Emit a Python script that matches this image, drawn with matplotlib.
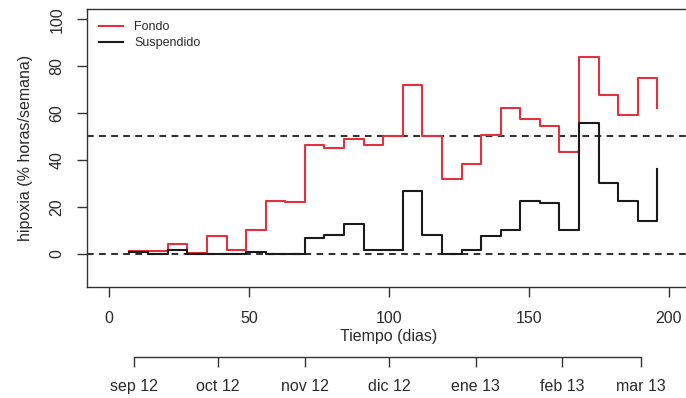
import matplotlib
matplotlib.use("Agg")
import matplotlib.pyplot as plt
from matplotlib.lines import Line2D

plt.rcParams["font.family"] = ["Liberation Sans", "DejaVu Sans"]

# weekly points (days since start)
days = [7, 14, 21, 28, 35, 42, 49, 56, 63, 70, 77, 84, 91, 98, 105, 112,
        119, 126, 133, 140, 147, 154, 161, 168, 175, 182, 189, 196]
fondo = [1.0, 1.0, 4.1, 0.3, 7.7, 1.4, 10.0, 22.6, 22.2, 46.2, 45.0, 49.0, 46.2, 50.1,
         72.0, 50.1, 32.0, 38.2, 50.7, 62.0, 57.5, 54.3, 43.4, 83.9, 67.8, 59.0, 75.1, 62.1]
suspendido = [0.7, 0.0, 1.5, 0.0, 0.0, 0.0, 0.5, 0.0, 0.0, 6.6, 7.8, 12.7, 1.4, 1.4,
              26.9, 7.8, 0.0, 1.4, 7.7, 10.0, 22.6, 21.5, 10.0, 55.8, 30.3, 22.6, 14.0, 36.3]
thresholds = [0, 50]

month_days = [9, 39, 70, 100, 131, 162, 190]
month_labels = ["sep 12", "oct 12", "nov 12", "dic 12", "ene 13", "feb 13", "mar 13"]

RED = "#e2303e"
GREY = "#333333"
TXT = "#2a2a2a"

fig = plt.figure(figsize=(6.86, 3.98), dpi=100)
ax = fig.add_axes([0.1264, 0.2781, 0.8808, 0.6993])

for t in thresholds:
    ax.axhline(t, color=GREY, lw=1.5, ls=(0, (3.2, 2.6)), zorder=1)
ax.step(days, fondo, where="post", color=RED, lw=1.5, zorder=2)
ax.step(days, suspendido, where="post", color="#1a1a1a", lw=1.5, zorder=3)

ax.set_xlim(-8, 208)
ax.set_ylim(-14.4, 104.4)
ax.set_xticks([0, 50, 100, 150, 200])
ax.set_yticks([0, 20, 40, 60, 80, 100])
for s in ax.spines.values():
    s.set_color(GREY)
    s.set_linewidth(1.0)
ax.tick_params(axis="both", direction="out", length=7, width=1.0, color=GREY,
               labelsize=11.5, labelcolor=TXT)
ax.tick_params(axis="x", pad=10)
ax.tick_params(axis="y", pad=9)
for lab in ax.get_yticklabels():
    lab.set_rotation(90)
    lab.set_va("center")
ax.set_xlabel("Tiempo (dias)", fontsize=11.5, labelpad=2.5, color=TXT)
ax.set_ylabel("hipoxia (% horas/semana)", fontsize=11.5, labelpad=12, color=TXT)

handles = [Line2D([], [], color=RED, lw=1.5), Line2D([], [], color="#1a1a1a", lw=1.5)]
ax.legend(handles, ["Fondo", "Suspendido"], loc="upper left",
          bbox_to_anchor=(0.012, 0.974), frameon=False, fontsize=9,
          handlelength=1.9, handletextpad=0.9, labelspacing=0.3, borderaxespad=0,
          labelcolor=TXT)

# month axis below
ax2 = fig.add_axes([0.1264, 0.1038, 0.8808, 0.001])
ax2.set_xlim(ax.get_xlim())
ax2.set_yticks([])
for side in ["top", "left", "right"]:
    ax2.spines[side].set_visible(False)
ax2.spines["bottom"].set_bounds(month_days[0], month_days[-1])
ax2.spines["bottom"].set_color(GREY)
ax2.spines["bottom"].set_linewidth(1.0)
ax2.set_xticks(month_days)
ax2.set_xticklabels(month_labels)
ax2.tick_params(axis="x", direction="out", length=7, width=1.0, color=GREY,
                labelsize=11.5, pad=9, labelcolor=TXT)
ax2.patch.set_alpha(0)

fig.savefig("out.png", dpi=100)
